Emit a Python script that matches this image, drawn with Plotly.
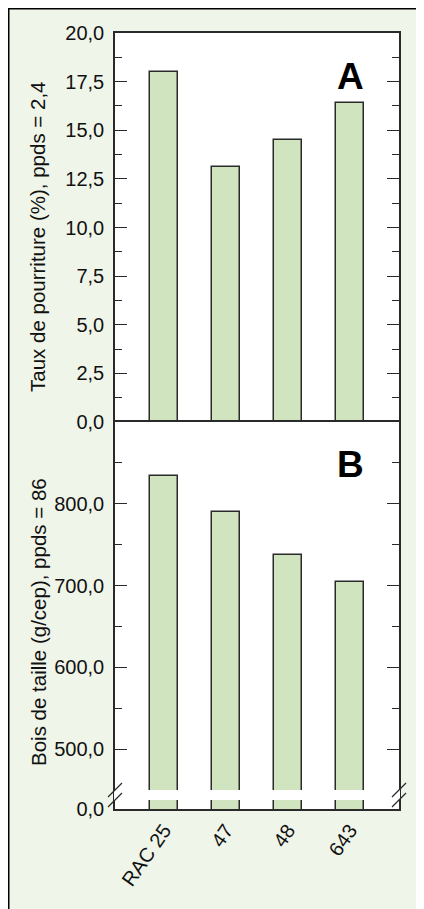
import plotly.graph_objects as go
from plotly.subplots import make_subplots

categories = ["RAC 25", "47", "48", "643"]
rot_values = [18.0, 13.1, 14.5, 16.4]          # Taux de pourriture (%)
wood_values = [834, 790, 737, 704]             # Bois de taille (g/cep)

a_ticks = [0, 2.5, 5, 7.5, 10, 12.5, 15, 17.5, 20]
a_ticktext = ["0,0", "2,5", "5,0", "7,5", "10,0", "12,5", "15,0", "17,5", "20,0"]
b_ticks = [427, 500, 600, 700, 800]
b_ticktext = ["0,0", "500,0", "600,0", "700,0", "800,0"]
b_minor = [550, 650, 750, 850]

W, H = 424, 909
OFF = 8  # page offset of the figure inside the browser window
L, R, T, B = 107, 33, 25, 108
PW, PH = W - L - R, H - T - B


def px(x):  # window pixel -> paper x
    return (x - OFF - L) / PW


def py(y):  # window pixel -> paper y
    return (H - B - (y - OFF)) / PH


BAR = "#cfe4bf"
EDGE = "#2a2a2a"
BG = "#f0f5e9"
FONT = "Liberation Sans, Arial, sans-serif"

split = py(422)
fig = make_subplots(rows=2, cols=1, shared_xaxes=True, vertical_spacing=0,
                    row_heights=[1 - split, split])

fig.add_trace(go.Bar(x=categories, y=rot_values, width=0.45,
                     marker=dict(color=BAR, line=dict(color=EDGE, width=1.5)),
                     showlegend=False), row=1, col=1)
fig.add_trace(go.Bar(x=categories, y=wood_values, width=0.45,
                     marker=dict(color=BAR, line=dict(color=EDGE, width=1.5)),
                     showlegend=False), row=2, col=1)

axcommon = dict(showline=True, linecolor=EDGE, linewidth=1.5,
                showgrid=False, zeroline=False)
fig.update_xaxes(range=[-0.79, 3.79], ticks="", **axcommon)
fig.update_xaxes(showticklabels=False, side="top", mirror=False, row=1, col=1)
fig.update_xaxes(mirror=True, tickangle=-55,
                 tickfont=dict(size=20, color="#111", family=FONT), row=2, col=1)

fig.update_yaxes(range=[0, 20], tickmode="array", tickvals=a_ticks, ticktext=a_ticktext,
                 ticks="inside", ticklen=12, tickwidth=1.2, tickcolor=EDGE,
                 minor=dict(dtick=1.25, tick0=0, ticks="inside", ticklen=7,
                            tickwidth=1.2, tickcolor=EDGE),
                 tickfont=dict(size=20, color="#111", family=FONT),
                 ticklabelstandoff=5, row=1, col=1, **axcommon)
fig.update_yaxes(range=[427, 900], tickmode="array", tickvals=b_ticks, ticktext=b_ticktext,
                 ticks="inside", ticklen=12, tickwidth=1.2, tickcolor=EDGE,
                 minor=dict(tickvals=b_minor, ticks="inside", ticklen=7,
                            tickwidth=1.2, tickcolor=EDGE),
                 tickfont=dict(size=20, color="#111", family=FONT),
                 ticklabelstandoff=5, row=2, col=1, **axcommon)
fig.update_yaxes(mirror="ticks")

shapes = []
# frame of the figure (top and left edges visible)
shapes.append(dict(type="line", xref="paper", yref="paper", x0=px(OFF), x1=px(W + 20),
                   y0=py(OFF + 0.5), y1=py(OFF + 0.5), line=dict(color="black", width=2)))
shapes.append(dict(type="line", xref="paper", yref="paper", x0=px(OFF + 0.5), x1=px(OFF + 0.5),
                   y0=py(OFF), y1=py(H + 20), line=dict(color="black", width=2)))
# axis break band
shapes.append(dict(type="rect", xref="paper", yref="paper", x0=px(114), x1=px(400),
                   y0=py(800), y1=py(790), fillcolor="white", line=dict(width=0), layer="above"))
for xc in (115, 399):
    for yc in (790, 800):
        shapes.append(dict(type="line", xref="paper", yref="paper",
                           x0=px(xc - 7), y0=py(yc + 7), x1=px(xc + 7), y1=py(yc - 7),
                           line=dict(color=EDGE, width=1.2), layer="above"))

annotations = [
    dict(text="<b>A</b>", x=px(350), y=py(76), xref="paper", yref="paper", showarrow=False,
         font=dict(size=37, color="black", family=FONT), xanchor="center", yanchor="middle"),
    dict(text="<b>B</b>", x=px(350), y=py(464), xref="paper", yref="paper", showarrow=False,
         font=dict(size=37, color="black", family=FONT), xanchor="center", yanchor="middle"),
    dict(text="Taux de pourriture (%), ppds = 2,4", x=px(38), y=py(236), xref="paper",
         yref="paper", showarrow=False, textangle=-90,
         font=dict(size=20.5, color="#111", family=FONT), xanchor="center", yanchor="middle"),
    dict(text="Bois de taille (g/cep), ppds = 86", x=px(38), y=py(622), xref="paper",
         yref="paper", showarrow=False, textangle=-90,
         font=dict(size=20.5, color="#111", family=FONT), xanchor="center", yanchor="middle"),
]

fig.update_layout(width=W, height=H, margin=dict(l=L, r=R, t=T, b=B, autoexpand=False),
                  paper_bgcolor=BG, plot_bgcolor="white", bargap=0,
                  shapes=shapes, annotations=annotations,
                  font=dict(family=FONT, color="#111"))

fig.write_html("out.html")
